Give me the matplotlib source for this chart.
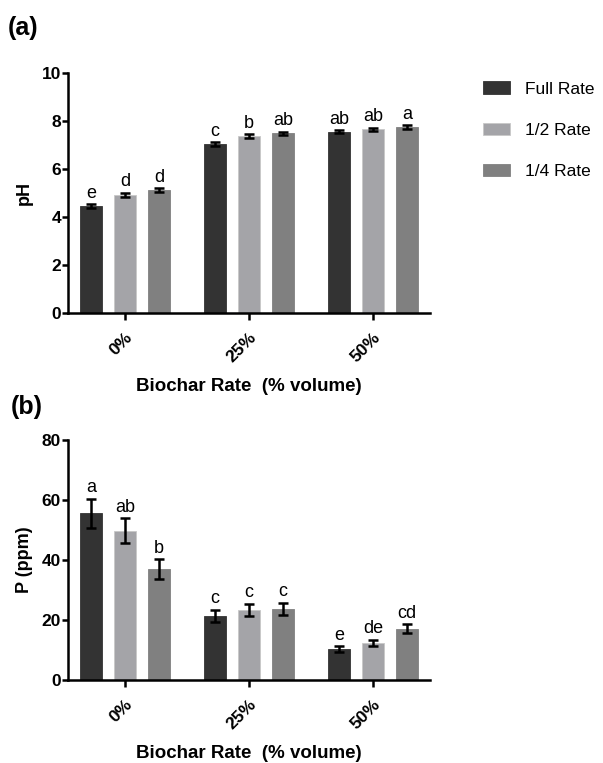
import matplotlib.pyplot as plt
import numpy as np

plt.rcParams['font.family'] = ['Liberation Sans', 'DejaVu Sans']

groups = ['0%', '25%', '50%']
rates = ['Full Rate', '1/2 Rate', '1/4 Rate']
colors = ['#333333', '#a4a4a8', '#808080']

ph_mean = [[4.45, 7.03, 7.55],
           [4.93, 7.37, 7.65],
           [5.12, 7.48, 7.75]]
ph_err = [[0.08, 0.08, 0.07],
          [0.08, 0.07, 0.07],
          [0.07, 0.08, 0.08]]
ph_letters = [['e', 'c', 'ab'],
              ['d', 'b', 'ab'],
              ['d', 'ab', 'a']]

p_mean = [[55.6, 21.4, 10.2],
          [49.8, 23.4, 12.3],
          [37.0, 23.6, 17.1]]
p_err = [[4.8, 2.0, 1.0],
         [4.2, 2.0, 1.1],
         [3.2, 2.1, 1.5]]
p_letters = [['a', 'c', 'e'],
             ['ab', 'c', 'de'],
             ['b', 'c', 'cd']]

fig = plt.figure(figsize=(6.03, 7.63), dpi=100)
ax1 = fig.add_axes([0.1128, 0.5898, 0.6002, 0.3145])
ax2 = fig.add_axes([0.1128, 0.1088, 0.6002, 0.3145])

x = np.arange(len(groups))
width = 0.178
step = 0.275


def draw(ax, means, errs, letters, ymax, ystep, ylabel, pad):
    for i in range(3):
        pos = x + (i - 1) * step
        ax.bar(pos, means[i], width, color=colors[i], label=rates[i],
               edgecolor='#c8c8c8' if i == 1 else colors[i], linewidth=0.6)
        ax.errorbar(pos, means[i], yerr=errs[i], fmt='none', ecolor='black',
                    elinewidth=1.8, capsize=3.6, capthick=1.8)
        for xx, m, e, t in zip(pos, means[i], errs[i], letters[i]):
            ax.text(xx, m + e + pad, t, ha='center', va='bottom', fontsize=13)
    ax.set_xlim(-0.46, 2.46)
    ax.set_ylim(0, ymax)
    ax.set_yticks(np.arange(0, ymax + 1, ystep))
    ax.set_xticks(x)
    ax.set_xticklabels(groups, rotation=45, ha='right', va='top',
                       rotation_mode='anchor', fontweight='bold', fontsize=12.5)
    for lab in ax.get_yticklabels():
        lab.set_fontweight('bold')
        lab.set_fontsize(12.5)
    ax.spines['top'].set_visible(False)
    ax.spines['right'].set_visible(False)
    ax.spines['left'].set_linewidth(1.8)
    ax.spines['bottom'].set_linewidth(1.8)
    ax.tick_params(axis='y', width=1.8, length=4, pad=1)
    ax.tick_params(axis='x', width=1.8, length=5, pad=7)
    ax.set_ylabel(ylabel, fontsize=13, fontweight='bold')
    ax.yaxis.set_label_coords(-0.097, 0.5)
    ax.set_xlabel('Biochar Rate  (% volume)', fontsize=13.5, fontweight='bold')
    ax.xaxis.set_label_coords(0.5, -0.27)


draw(ax1, ph_mean, ph_err, ph_letters, 10, 2, 'pH', 0.1)
draw(ax2, p_mean, p_err, p_letters, 80, 20, 'P (ppm)', 0.8)

ax1.legend(loc='upper left', bbox_to_anchor=(1.146, 0.965), frameon=False,
           borderpad=0, borderaxespad=0, fontsize=12.5, handlelength=1.55,
           handleheight=0.7, labelspacing=1.5, handletextpad=0.9)

fig.text(0.013, 0.963, '(a)', fontsize=18, fontweight='bold', va='center')
fig.text(0.018, 0.467, '(b)', fontsize=18, fontweight='bold', va='center')

fig.savefig('out.png', dpi=100)
